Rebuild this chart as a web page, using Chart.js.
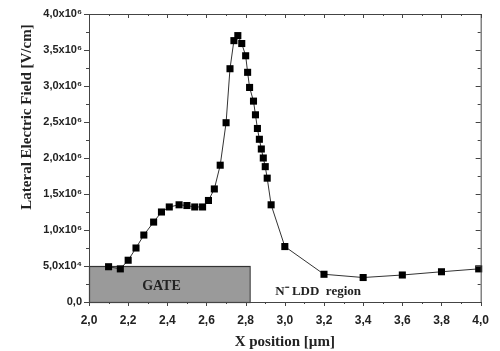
<!DOCTYPE html>
<html>
<head>
<meta charset="utf-8">
<script src="https://cdn.jsdelivr.net/npm/chart.js@4/dist/chart.umd.min.js"></script>
<style>
  html, body { margin: 0; padding: 0; background: #fff; }
  #wrap { width: 500px; height: 351px; }
</style>
</head>
<body>
<div id="wrap"><canvas id="fieldChart" width="500" height="351"></canvas></div>
<script>
// --- DATA ---
const xPositions = [2.10, 2.16, 2.20, 2.24, 2.28, 2.33, 2.37, 2.41, 2.46, 2.50,
    2.54, 2.58, 2.61, 2.64, 2.67, 2.70, 2.72, 2.74, 2.76, 2.78,
    2.80, 2.81, 2.82, 2.84, 2.85, 2.86, 2.87, 2.88, 2.89, 2.90,
    2.91, 2.93, 3.00, 3.20, 3.40, 3.60, 3.80, 3.99];
const fieldValues = [0.49e6, 0.46e6, 0.58e6, 0.75e6, 0.93e6, 1.11e6, 1.25e6, 1.32e6, 1.35e6, 1.34e6,
    1.32e6, 1.32e6, 1.41e6, 1.57e6, 1.90e6, 2.49e6, 3.24e6, 3.63e6, 3.70e6, 3.59e6,
    3.42e6, 3.19e6, 2.98e6, 2.79e6, 2.60e6, 2.41e6, 2.26e6, 2.125e6, 2.00e6, 1.88e6,
    1.72e6, 1.35e6, 0.77e6, 0.385e6, 0.34e6, 0.375e6, 0.42e6, 0.46e6];
// tick labels as printed in the figure (the 0.5 one really says 10^4)
const yTickLabels = ['0,0', '5,0x10⁴', '1,0x10⁶', '1,5x10⁶', '2,0x10⁶', '2,5x10⁶', '3,0x10⁶', '3,5x10⁶', '4,0x10⁶'];
const gateRegion = [2.0, 2.82, 0, 0.5e6]; // xFrom, xTo, yFrom, yTo

const serif = '"Liberation Serif", "Times New Roman", serif';
const sans = '"Liberation Sans", Arial, sans-serif';

// Gate box + region labels, under the data
const regionPlugin = {
    id: 'regions',
    beforeDatasetsDraw(chart) {
        const { ctx, scales: { x, y } } = chart;
        const x0 = x.getPixelForValue(gateRegion[0]);
        const x1 = x.getPixelForValue(gateRegion[1]);
        const y0 = y.getPixelForValue(gateRegion[2]);
        const y1 = y.getPixelForValue(gateRegion[3]);
        ctx.save();
        ctx.fillStyle = '#9a9a9a';
        ctx.fillRect(x0, y1, x1 - x0, y0 - y1);
        ctx.strokeStyle = '#333';
        ctx.lineWidth = 1.2;
        ctx.strokeRect(x0 + 0.5, y1 + 0.5, x1 - x0, y0 - y1);

        ctx.fillStyle = '#222';
        ctx.font = 'bold 14px ' + serif;
        ctx.textAlign = 'center';
        ctx.textBaseline = 'middle';
        ctx.fillText('GATE', x.getPixelForValue(2.37), y.getPixelForValue(0.21e6));

        ctx.font = 'bold 13px ' + serif;
        ctx.fillText('N⁻ LDD  region', x.getPixelForValue(3.17), y.getPixelForValue(0.15e6));
        ctx.restore();
    },
    afterDraw(chart) {
        const { ctx, chartArea: a, scales: { x, y } } = chart;
        ctx.save();
        ctx.strokeStyle = '#444';
        ctx.lineWidth = 1;
        ctx.strokeRect(a.left + 0.5, a.top + 0.5, a.right - a.left, a.bottom - a.top);

        ctx.beginPath();
        // x ticks every 0.1, longer at 0.2
        for (let i = 0; i <= 20; i++) {
            const px = Math.round(x.getPixelForValue(2 + i * 0.1)) + 0.5;
            const len = i % 2 === 0 ? 4 : 2;
            ctx.moveTo(px, a.bottom); ctx.lineTo(px, a.bottom + len);
            ctx.moveTo(px, a.top); ctx.lineTo(px, a.top + len);
        }
        // y ticks every 0.25e6, longer at 0.5e6
        for (let i = 0; i <= 16; i++) {
            const py = Math.round(y.getPixelForValue(i * 0.25e6)) + 0.5;
            const len = i % 2 === 0 ? 5 : 3;
            ctx.moveTo(a.left, py); ctx.lineTo(a.left - len, py);
            ctx.moveTo(a.right, py); ctx.lineTo(a.right - len, py);
        }
        ctx.stroke();

        // y axis title
        ctx.fillStyle = '#222';
        ctx.font = 'bold 15px ' + serif;
        ctx.translate(27, 117);
        ctx.rotate(-Math.PI / 2);
        ctx.textAlign = 'center';
        ctx.textBaseline = 'middle';
        ctx.fillText('Lateral Electric Field [V/cm]', 0, 0);
        ctx.restore();
    }
};

new Chart(document.getElementById('fieldChart'), {
    type: 'scatter',
    data: {
        datasets: [{
            data: xPositions.map((v, i) => ({ x: v, y: fieldValues[i] })),
            showLine: true,
            borderColor: '#333',
            borderWidth: 1,
            pointStyle: 'rect',
            pointRadius: 5,
            pointBackgroundColor: '#000',
            pointBorderColor: '#000',
            pointBorderWidth: 0,
            clip: false
        }]
    },
    options: {
        responsive: false,
        animation: false,
        layout: { padding: { top: 14, right: 17, left: 0, bottom: 0 } },
        plugins: { legend: { display: false }, tooltip: { enabled: false } },
        scales: {
            x: {
                type: 'linear',
                min: 2, max: 4,
                grid: { display: false, drawTicks: false },
                border: { display: false },
                ticks: {
                    stepSize: 0.2,
                    padding: 11,
                    color: '#222',
                    font: { family: sans, size: 12, weight: 'bold' },
                    callback: v => v.toFixed(1).replace('.', ',')
                },
                title: {
                    display: true,
                    text: 'X position [µm]',
                    color: '#222',
                    font: { family: serif, size: 15, weight: 'bold' },
                    padding: { top: 3, bottom: 0 }
                },
                afterFit: s => { s.height = 49; }
            },
            y: {
                min: 0, max: 4e6,
                grid: { display: false, drawTicks: false },
                border: { display: false },
                ticks: {
                    stepSize: 0.5e6,
                    padding: 7,
                    color: '#222',
                    font: { family: sans, size: 11, weight: 'bold' },
                    callback: (v, i) => yTickLabels[i]
                },
                afterFit: s => { s.width = 89; }
            }
        }
    },
    plugins: [regionPlugin]
});
</script>
</body>
</html>
